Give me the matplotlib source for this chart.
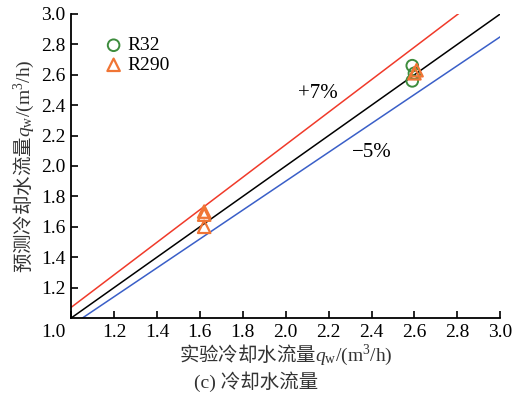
import numpy as np
import matplotlib.pyplot as plt
import matplotlib.transforms as mtransforms

plt.rcParams['font.family'] = ['Liberation Serif', 'Noto Sans CJK SC']
plt.rcParams['mathtext.fontset'] = 'custom'
plt.rcParams['mathtext.rm'] = 'Noto Sans CJK SC'
plt.rcParams['mathtext.sf'] = 'Liberation Serif'
plt.rcParams['mathtext.it'] = 'Liberation Serif:italic'

# measured (x) vs predicted (y) cooling water flow, m3/h
r32_x = [2.59, 2.60, 2.59]
r32_y = [2.66, 2.61, 2.56]
r290_x = [1.62, 1.62, 1.62, 2.60, 2.61]
r290_y = [1.70, 1.68, 1.60, 2.61, 2.63]
xticks = [1.0, 1.2, 1.4, 1.6, 1.8, 2.0, 2.2, 2.4, 2.6, 2.8, 3.0]
yticks = [1.2, 1.4, 1.6, 1.8, 2.0, 2.2, 2.4, 2.6, 2.8, 3.0]

fig = plt.figure(figsize=(5.12, 4.0), dpi=100)
ax = fig.add_axes([0.139, 0.205, 0.838, 0.76])

xx = np.array([1.0, 3.0])
ax.plot(xx, xx, color='black', lw=1.1, zorder=1)
ax.plot(xx, xx * 1.07, color='#f03a2a', lw=1.1, zorder=1)
ax.plot(xx, xx * 0.95, color='#3a5fc8', lw=1.1, zorder=1)

ax.scatter(r32_x, r32_y, s=70, facecolors='none', edgecolors='#3d8c3d',
           linewidths=1.4, label='R32', zorder=3)
ax.scatter(r290_x, r290_y, s=80, marker='^', facecolors='none', edgecolors='#f07535',
           linewidths=1.6, label='R290', zorder=4)

ax.text(2.15, 2.48, '+7%', fontsize=15, ha='center', va='center')
ax.text(2.40, 2.09, '\u22125%', fontsize=15, ha='center', va='center')

ax.set_xlim(1.0, 3.0)
ax.set_ylim(1.0, 3.0)
ax.set_xticks(xticks)
ax.set_xticklabels(['%.1f' % v for v in xticks])
ax.set_yticks(yticks)
ax.set_yticklabels(['%.1f' % v for v in yticks])
ax.tick_params(direction='in', length=5, width=1.2, labelsize=14, pad=4)
for s in ['top', 'right']:
    ax.spines[s].set_visible(False)
for s in ['left', 'bottom']:
    ax.spines[s].set_linewidth(1.3)

lab0 = ax.get_xticklabels()[0]
lab0.set_transform(lab0.get_transform() + mtransforms.ScaledTranslation(-13 / 72, 0, fig.dpi_scale_trans))

unit = r'\mathit{q}_\mathsf{w}\mathsf{/(m}^{\mathsf{3}}\mathsf{/h)}$'
ax.set_xlabel(r'$\mathrm{实验冷却水流量}' + unit, fontsize=14, color='#333333', labelpad=2)
ax.set_ylabel(r'$\mathrm{预测冷却水流量}' + unit, fontsize=14, color='#333333', labelpad=4)
fig.text(0.5, 0.045, '(c) 冷却水流量', fontsize=14, ha='center', va='center', color='#333333')

ax.legend(loc='upper left', bbox_to_anchor=(0.04, 0.97), frameon=False, fontsize=14,
          handletextpad=0.1, borderpad=0.2, labelspacing=0.1, handlelength=1.2)

fig.savefig('out.png', dpi=100)
